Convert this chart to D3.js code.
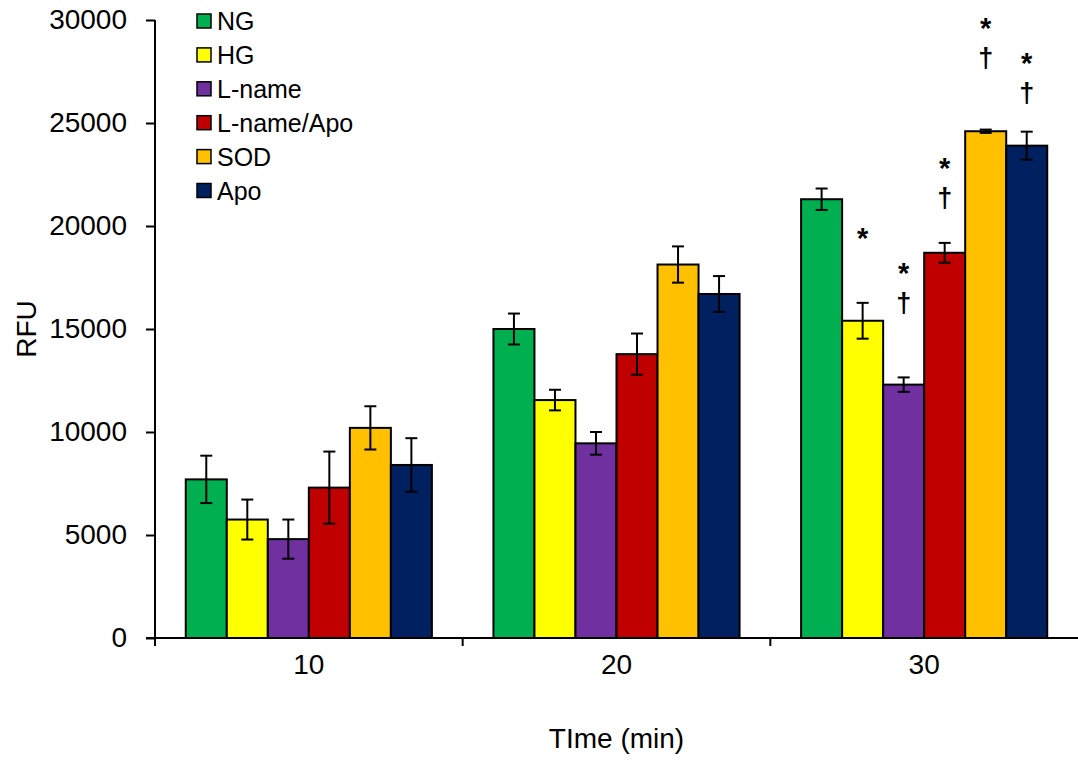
<!DOCTYPE html>
<html>
<head>
<meta charset="utf-8">
<script src="https://cdn.jsdelivr.net/npm/d3@7"></script>
<style>
  html, body { margin: 0; padding: 0; background: #fff; }
  svg { display: block; font-family: Arial, "Liberation Sans", sans-serif; }
</style>
</head>
<body>
<svg id="chart" width="1078" height="761"></svg>
<script>
// Time points (min)
const times = ["10", "20", "30"];

// Treatment groups
const groups = ["NG", "HG", "L-name", "L-name/Apo", "SOD", "Apo"];

// Mean RFU per group at 10, 20, 30 min
const NG        = [7700, 15000, 21300];
const HG        = [5750, 11550, 15400];
const Lname     = [4800, 9450, 12300];
const LnameApo  = [7300, 13780, 18700];
const SOD       = [10200, 18130, 24600];
const Apo       = [8400, 16700, 23900];

// Error (±) per group at 10, 20, 30 min
const NG_err       = [1150, 750, 520];
const HG_err       = [970, 500, 870];
const Lname_err    = [950, 550, 350];
const LnameApo_err = [1750, 1000, 480];
const SOD_err      = [1050, 880, 80];
const Apo_err      = [1300, 870, 680];

// Significance marks at 30 min (* vs NG, † vs HG)
const sig30 = ["", "*", "*†", "*†", "*†", "*†"];

// Y axis ticks
const yTicks = [0, 5000, 10000, 15000, 20000, 25000, 30000];

const colors = ["#00B050", "#FFFF00", "#7030A0", "#C00000", "#FFC000", "#002060"];
const means = [NG, HG, Lname, LnameApo, SOD, Apo];
const errs = [NG_err, HG_err, Lname_err, LnameApo_err, SOD_err, Apo_err];

const rows = [];
times.forEach((t, ti) => {
  groups.forEach((g, gi) => {
    rows.push({ time: t, group: g, gi, value: means[gi][ti], err: errs[gi][ti] });
  });
});

const svg = d3.select("#chart");
const plotLeft = 155, plotRight = 1078, plotTop = 20, plotBottom = 638;

const x = d3.scaleBand().domain(times).range([plotLeft, plotRight]).padding(0);
const bw = x.bandwidth();
const xi = d3.scaleBand().domain(groups).range([bw * 0.1, bw * 0.9]).padding(0);
const y = d3.scaleLinear().domain([0, 30000]).range([plotBottom, plotTop]);

// bars
svg.append("g").selectAll("rect").data(rows).join("rect")
  .attr("x", d => x(d.time) + xi(d.group))
  .attr("y", d => y(d.value))
  .attr("width", xi.bandwidth())
  .attr("height", d => y(0) - y(d.value))
  .attr("fill", d => colors[d.gi])
  .attr("stroke", "#000")
  .attr("stroke-width", 2);

// error bars
const eb = svg.append("g").attr("stroke", "#000").attr("stroke-width", 2);
rows.forEach(d => {
  const cx = x(d.time) + xi(d.group) + xi.bandwidth() / 2;
  const y1 = y(d.value + d.err), y2 = y(d.value - d.err);
  eb.append("line").attr("x1", cx).attr("x2", cx).attr("y1", y1).attr("y2", y2);
  eb.append("line").attr("x1", cx - 6).attr("x2", cx + 6).attr("y1", y1).attr("y2", y1);
  eb.append("line").attr("x1", cx - 6).attr("x2", cx + 6).attr("y1", y2).attr("y2", y2);
});

// significance symbols above the 30 min bars; lower symbol anchored at these RFU levels
const sigAnchor = [null, 19700, 16200, 21300, 28100, 26400];
const sigG = svg.append("g").attr("fill", "#000").attr("text-anchor", "middle");
sig30.forEach((s, gi) => {
  if (!s) return;
  const cx = x("30") + xi(groups[gi]) + xi.bandwidth() / 2;
  const syms = s.split("").reverse(); // bottom first
  syms.forEach((c, k) => {
    const cy = y(sigAnchor[gi]) - k * 37;
    const star = c === "*";
    sigG.append("text")
      .attr("x", cx)
      .attr("y", cy + (star ? 16 : 8))
      .attr("font-size", star ? 29 : 27)
      .attr("font-weight", "bold")
      .text(c);
  });
});

// y axis
const yAxis = d3.axisLeft(y).tickValues(yTicks).tickSize(9).tickSizeOuter(0).tickPadding(19)
  .tickFormat(d3.format("d"));
const gy = svg.append("g").attr("transform", `translate(${plotLeft},0)`).call(yAxis);
gy.select(".domain").attr("stroke", "#000").attr("stroke-width", 2).attr("d", `M0,${plotTop}V${plotBottom + 8}`);
gy.selectAll(".tick line").attr("stroke", "#000").attr("stroke-width", 2);
gy.selectAll(".tick text").attr("font-size", 28).attr("fill", "#000")
  .attr("font-family", "Arial, 'Liberation Sans', sans-serif");

// x axis: boundary ticks between time groups
const boundaries = [x("20"), x("30")];
const gx = svg.append("g");
gx.append("line").attr("x1", plotLeft - 9).attr("x2", plotRight).attr("y1", plotBottom).attr("y2", plotBottom)
  .attr("stroke", "#000").attr("stroke-width", 2);
gx.selectAll("line.b").data(boundaries).join("line").attr("class", "b")
  .attr("x1", d => d).attr("x2", d => d).attr("y1", plotBottom).attr("y2", plotBottom + 8)
  .attr("stroke", "#000").attr("stroke-width", 2);
gx.selectAll("text").data(times).join("text")
  .attr("x", d => x(d) + bw / 2).attr("y", 674)
  .attr("text-anchor", "middle").attr("font-size", 28).attr("fill", "#000").text(d => d);

// axis titles
svg.append("text").attr("x", (plotLeft + plotRight) / 2).attr("y", 748).attr("text-anchor", "middle")
  .attr("font-size", 28).text("TIme (min)");
svg.append("text").attr("transform", `translate(36,${(plotTop + plotBottom) / 2}) rotate(-90)`)
  .attr("text-anchor", "middle").attr("font-size", 28).text("RFU");

// legend
const lg = svg.append("g").attr("transform", "translate(197,14)");
groups.forEach((g, i) => {
  const row = lg.append("g").attr("transform", `translate(0,${i * 33.9})`);
  row.append("rect").attr("x", 0).attr("y", 0).attr("width", 14).attr("height", 14)
    .attr("fill", colors[i]).attr("stroke", "#000").attr("stroke-width", 1.5);
  row.append("text").attr("x", 20).attr("y", 16).attr("font-size", 25).text(g);
});
</script>
</body>
</html>
